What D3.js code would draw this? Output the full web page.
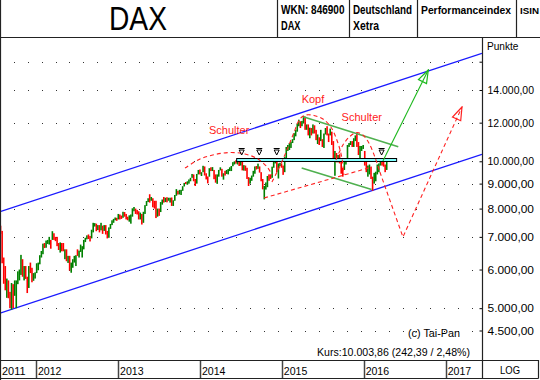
<!DOCTYPE html>
<html>
<head>
<meta charset="utf-8">
<script src="https://cdn.jsdelivr.net/npm/d3@7"></script>
<style>
  body { margin: 0; background: #fff; }
  svg { display: block; font-family: "Liberation Sans", Arial, sans-serif; }
</style>
</head>
<body>
<svg id="chart" width="540" height="380"></svg>
<script>
// weekly DAX bars, one per week (mid-week date), late Jul 2011 - mid Apr 2016
const firstWeek = new Date(2011, 6, 27);

const closes = [
  7159,6236,5998,5480,5537,5247,5190,5574,5294,5502,5675,5910,5970,6346,5966,5985,5800,5492,6080,5986,5701,5878,5898,
  6057,6143,6404,6512,6766,6692,6849,6864,6921,6880,7157,6996,6947,6775,6584,6801,6761,6561,6579,6271,6339,5978,6130,6230,6263,6416,
  6410,6557,6630,6690,6865,6945,7040,6971,6970,7214,7412,7451,7216,7397,7233,7380,7232,7335,7163,6950,7310,7405,7518,7596,7636,7612,
  7776,7715,7702,7857,7833,7652,7593,7662,7708,7986,8058,7913,7795,7658,7744,7459,7814,8122,8278,8399,8305,8349,8254,8127,7789,7959,
  7806,8212,8331,8298,8410,8338,8378,8416,8104,8276,8509,8676,8661,8725,8725,8869,9018,9009,9078,9169,9219,9406,9172,9006,9400,9590,
  9435,9473,9742,9392,9306,9290,9662,9657,9692,9350,9056,9342,9587,9695,9315,9409,9401,9556,9581,9630,9768,9943,9987,9912,9987,9815,
  10009,9666,9720,9644,9210,9010,9092,9339,9470,9747,9691,9799,9490,9195,8788,8850,8988,9326,9291,9252,9732,9980,10087,9594,9787,9884,
  9765,9649,10167,10649,10694,10846,10963,11051,11402,11551,11901,12040,11868,11967,12375,11689,11811,11454,11709,11447,11865,11413,11197,11197,11041,11492,
  10961,11316,11674,11347,11309,11490,10985,10124,10298,10038,10123,9916,9688,9553,10096,10104,10795,10850,10988,10708,11119,11293,10752,10340,10608,10728,
  10743,9849,9545,9764,9798,9286,8967,9388,9513,9824,9831,9951,9851,9794,9622,10004
];
const highs = [
  7380,7200,6350,6100,5750,5700,5400,5630,5600,5700,5700,5950,6000,6430,6300,6100,6100,5800,6100,6200,6050,5900,5920,
  6180,6200,6420,6550,6780,6800,6880,6900,7000,6900,7190,7120,7000,7000,6800,6820,6800,6800,6600,6600,6400,6400,6200,6300,6400,6420,
  6600,6560,6750,6700,6900,6970,7050,7080,7030,7240,7480,7470,7450,7400,7400,7480,7380,7400,7400,7200,7320,7440,7570,7620,7670,7660,
  7800,7780,7740,7880,7870,7800,7700,7750,7780,8010,8060,8000,7950,7900,7850,7800,7880,8130,8290,8400,8560,8450,8400,8300,8300,8000,
  8000,8250,8350,8450,8420,8440,8420,8420,8430,8320,8530,8770,8700,8740,8740,8890,9030,9070,9100,9180,9250,9420,9400,9200,9420,9600,
  9620,9500,9790,9760,9450,9310,9680,9720,9730,9600,9400,9400,9600,9720,9650,9450,9560,9600,9640,9720,9780,9960,10000,10050,10050,10000,
  10030,10000,9820,9800,9700,9280,9250,9350,9560,9760,9780,9890,9760,9500,9200,8900,9050,9330,9400,9400,9750,9990,10090,10030,9900,9930,
  9900,9800,10200,10700,10800,10900,10970,11100,11420,11600,11950,12170,12080,12100,12390,12350,11900,11900,11720,11700,11900,11850,11600,11350,11200,11600,
  11100,11400,11700,11800,11400,11670,11500,11000,10500,10400,10300,10340,10100,9700,10150,10150,10800,10900,11000,11000,11150,11300,11430,10950,10750,10750,
  10800,10500,10000,9800,9850,9750,9300,9470,9520,9850,9900,10100,10000,10000,9850,10030
];
const lows = [
  7100,6180,5610,5440,5250,5240,5000,4965,5000,5300,5000,5600,5700,5850,5800,5700,5740,5370,5500,5900,5650,5690,5750,
  5900,5980,6150,6350,6450,6640,6650,6770,6750,6620,6900,6900,6860,6700,6580,6500,6540,6540,6300,6240,6190,5970,5910,6050,6200,6100,
  6400,6350,6520,6350,6600,6830,6920,6930,6850,6950,7150,7350,7190,7230,7150,7220,7100,7200,7080,6950,6970,7270,7400,7480,7570,7550,
  7600,7600,7620,7660,7700,7600,7570,7520,7450,7700,7900,7800,7780,7600,7600,7420,7480,7800,8100,8250,8230,8300,8050,8000,7650,7700,
  7730,7870,8150,8230,8250,8240,8300,8230,8100,8100,8300,8500,8550,8550,8530,8700,8880,8980,8950,9000,9100,9250,9100,8900,9000,9400,
  9400,9330,9500,9350,9180,9010,9300,9550,9550,9190,9040,8990,9300,9580,9300,9170,9350,9420,9400,9550,9550,9770,9850,9890,9850,9780,
  9800,9580,9570,9560,9200,8900,9000,9120,9300,9430,9620,9650,9480,9100,8760,8355,8750,8850,9120,9200,9250,9700,9900,9500,9220,9780,
  9700,9380,9500,10100,10500,10550,10650,10900,11050,11250,11500,11800,11700,11800,11950,11600,11600,11300,11150,11300,11400,11400,11050,10850,10800,11000,
  10700,10650,11350,11300,10950,11300,10800,10100,9340,9950,9950,9900,9430,9300,9600,9850,10100,10700,10800,10700,10700,11000,10700,10300,10150,10500,
  10600,9800,9500,9300,9400,9200,8700,9000,9100,9400,9500,9800,9800,9750,9500,9600
];

const yGrid = [16000, 14000, 12000, 10000, 9000, 8000, 7000, 6000, 5000, 4500];
const yLabels = [14000, 12000, 10000, 9000, 8000, 7000, 6000, 5000, 4500];
const years = [2011, 2012, 2013, 2014, 2015, 2016, 2017];

// drawn analysis: points as [decimal year, index points]
const channelTop = [[2011.561, 7883], [2017.443, 16647]];
const channelBottom = [[2011.561, 4882], [2017.443, 10336]];
const neckline = [[2014.449, 10061], [2016.402, 10061]];
const neckMarks = [2014.510, 2014.725, 2014.938, 2016.219];
const leftShoulder = [[2013.818, 9688], [2014.001, 10109], [2014.185, 10326], [2014.368, 10424],
  [2014.551, 10350], [2014.709, 10109], [2014.831, 9688], [2014.880, 9374]];
const headArc = [[2014.880, 9069], [2014.978, 9781], [2015.063, 10547], [2015.149, 11456], [2015.222, 12210],
  [2015.295, 12442], [2015.393, 12413], [2015.503, 12210], [2015.600, 11757], [2015.673, 11058],
  [2015.722, 10399], [2015.747, 9827], [2015.759, 9374]];
const rightShoulder = [[2015.661, 10061], [2015.747, 10800], [2015.832, 11242], [2015.918, 11456],
  [2015.991, 11322], [2016.064, 10901], [2016.137, 10205], [2016.198, 9507]];
const bearPath = [[2016.198, 9507], [2016.479, 6995], [2017.199, 12920]];
const lowLine = [[2014.783, 8410], [2016.101, 9735]];
const greenTop = [[2015.262, 12342], [2016.422, 10713]];
const greenBottom = [[2015.243, 9688], [2016.097, 8754]];
const bullArrow = [[2016.235, 10014], [2016.788, 15386]];
const labels = [
  {text: 'Schulter', at: [2014.111, 11374]},
  {text: 'Kopf', at: [2015.243, 13166]},
  {text: 'Schulter', at: [2015.731, 12094]}
];

const svg = d3.select('#chart');
const plot = {left: 0, right: 482, top: 37, bottom: 360};
const FONT = '"Liberation Sans", Arial, sans-serif';

const x = d3.scaleTime()
    .domain([new Date(2012, 0, 1), new Date(2017, 0, 1)])
    .range([36, 445.7]);
const y = d3.scaleLog()
    .domain([4500, 16000])
    .range([330.5, 61.7]);

// decimal year -> Date
const yr = t => {
    const y0 = Math.floor(t), a = new Date(y0, 0, 1), b = new Date(y0 + 1, 0, 1);
    return new Date(+a + (t - y0) * (b - a));
};
const line = d3.line().x(d => x(yr(d[0]))).y(d => y(d[1]));
const curve = d3.line().x(d => x(yr(d[0]))).y(d => y(d[1])).curve(d3.curveCatmullRom);

const bars = closes.map((c, i) => ({
    date: d3.timeDay.offset(firstWeek, 7 * i),
    close: c, high: highs[i], low: lows[i],
    up: i > 0 && c >= closes[i - 1]
}));

// arrow heads
const defs = svg.append('defs');
[['headGreen', '#1cb81c'], ['headRed', '#ff2020']].forEach(([id, col]) => {
    defs.append('marker')
        .attr('id', id)
        .attr('viewBox', '-14 -6 15 12')
        .attr('markerWidth', 15).attr('markerHeight', 12)
        .attr('markerUnits', 'userSpaceOnUse')
        .attr('refX', 0).attr('refY', 0)
        .attr('orient', 'auto')
        .append('path')
        .attr('d', 'M0,0 L-13,-4.5 L-13,4.5 Z')
        .attr('fill', 'none')
        .attr('stroke', col)
        .attr('stroke-width', 1.2);
});
defs.append('clipPath').attr('id', 'plotClip')
    .append('rect')
    .attr('x', plot.left).attr('y', plot.top)
    .attr('width', plot.right - plot.left).attr('height', plot.bottom - plot.top);

// dotted grid
const dotCols = d3.range(13.88, plot.right - 2, 13.88);
svg.append('g').selectAll('g')
    .data(yGrid)
    .join('g')
    .selectAll('rect')
    .data(v => dotCols.map(c => [c, y(v)]))
    .join('rect')
    .attr('x', d => Math.round(d[0]))
    .attr('y', d => Math.round(d[1]))
    .attr('width', 1).attr('height', 1)
    .attr('fill', '#333');

const chart = svg.append('g').attr('clip-path', 'url(#plotClip)');

// trend channel
chart.selectAll('.channel')
    .data([channelTop, channelBottom])
    .join('path')
    .attr('d', line)
    .attr('fill', 'none')
    .attr('stroke', '#1a1aff')
    .attr('stroke-width', 1.3);

// price bars
chart.append('g').selectAll('rect')
    .data(bars)
    .join('rect')
    .attr('x', d => x(d.date) - 0.8)
    .attr('width', 1.6)
    .attr('y', d => y(d.high))
    .attr('height', d => Math.max(1, y(d.low) - y(d.high)))
    .attr('fill', d => d.up ? '#008000' : '#ff0000');

// neckline
chart.append('rect')
    .attr('x', x(yr(neckline[0][0])))
    .attr('width', x(yr(neckline[1][0])) - x(yr(neckline[0][0])))
    .attr('y', y(neckline[0][1]) - 1.5)
    .attr('height', 3)
    .attr('fill', '#80ffff')
    .attr('stroke', '#000')
    .attr('stroke-width', 1);

// green lines
chart.selectAll('.green')
    .data([greenTop, greenBottom])
    .join('path')
    .attr('d', line)
    .attr('fill', 'none')
    .attr('stroke', '#4fb04f')
    .attr('stroke-width', 1.6);
chart.append('path')
    .attr('d', line(bullArrow))
    .attr('fill', 'none')
    .attr('stroke', '#1cb81c')
    .attr('stroke-width', 1.1)
    .attr('marker-end', 'url(#headGreen)');

// red dashed head & shoulders
const dashed = g => g.attr('fill', 'none')
    .attr('stroke', '#ff2020')
    .attr('stroke-width', 1.1)
    .attr('stroke-dasharray', '4,3');
[leftShoulder, headArc, rightShoulder].forEach(pts => chart.append('path').attr('d', curve(pts)).call(dashed));
chart.append('path').attr('d', line(lowLine)).call(dashed);
chart.append('path').attr('d', line(bearPath)).call(dashed).attr('marker-end', 'url(#headRed)');

// neckline touch markers
chart.append('g').selectAll('path')
    .data(neckMarks)
    .join('path')
    .attr('transform', d => `translate(${x(yr(d))},${y(neckline[0][1]) - 4})`)
    .attr('d', 'M-3,-7.5 H3 M-2.5,-6 L0,-1 L2.5,-6 Z')
    .attr('fill', 'none')
    .attr('stroke', '#000')
    .attr('stroke-width', 1);

chart.append('g').selectAll('text')
    .data(labels)
    .join('text')
    .attr('x', d => x(yr(d.at[0])))
    .attr('y', d => y(d.at[1]))
    .attr('font-size', 11)
    .attr('fill', '#ff1a1a')
    .text(d => d.text);

// captions
svg.append('text').attr('x', 408).attr('y', 337)
    .attr('font-size', 11).attr('textLength', 52).attr('lengthAdjust', 'spacingAndGlyphs')
    .text('(c) Tai-Pan');
svg.append('text').attr('x', 317).attr('y', 356)
    .attr('font-size', 11).attr('textLength', 153).attr('lengthAdjust', 'spacingAndGlyphs')
    .text('Kurs:10.003,86 (242,39 / 2,48%)');

// right axis
const fmt = d3.formatLocale({decimal: ',', thousands: '.', grouping: [3], currency: ['', '']}).format(',.2f');
svg.append('g')
    .attr('transform', `translate(${plot.right + 0.5},0)`)
    .call(d3.axisRight(y).tickValues(yGrid).tickSize(-3).tickPadding(5)
        .tickFormat(v => yLabels.includes(v) ? fmt(v) : ''))
    .call(g => g.select('.domain').remove())
    .call(g => g.selectAll('text')
        .attr('font-family', FONT).attr('font-size', 11).attr('fill', '#000')
        .attr('textLength', 46.5).attr('lengthAdjust', 'spacingAndGlyphs'))
    .call(g => g.selectAll('line').attr('stroke', '#000'));

svg.append('text').attr('x', 487).attr('y', 50)
    .attr('font-size', 11).attr('textLength', 31.5).attr('lengthAdjust', 'spacingAndGlyphs')
    .text('Punkte');

// x axis band
const xg = svg.append('g');
xg.selectAll('line')
    .data(years.filter(d => x(new Date(d, 0, 1)) > 0))
    .join('line')
    .attr('x1', d => Math.round(x(new Date(d, 0, 1))) + 0.5)
    .attr('x2', d => Math.round(x(new Date(d, 0, 1))) + 0.5)
    .attr('y1', plot.bottom).attr('y2', 378)
    .attr('stroke', '#444').attr('stroke-width', 1.5);
xg.selectAll('text')
    .data(years)
    .join('text')
    .attr('x', d => Math.max(0, x(new Date(d, 0, 1))) + 2)
    .attr('y', 375)
    .attr('font-size', 11.5)
    .attr('textLength', 23.5).attr('lengthAdjust', 'spacingAndGlyphs')
    .text(d => d);
svg.append('text').attr('x', 500).attr('y', 374)
    .attr('font-size', 11.5).attr('textLength', 20).attr('lengthAdjust', 'spacingAndGlyphs')
    .text('LOG');

// frame lines
const frame = [
    [0.5, 0, 0.5, 380],
    [0, 37.5, 540, 37.5],
    [plot.right + 0.5, 37, plot.right + 0.5, 378],
    [0, plot.bottom + 0.5, 538, plot.bottom + 0.5],
    [0, 378.5, 538.5, 378.5],
    [538.5, plot.bottom, 538.5, 378.5],
    [277.5, 0, 277.5, 37], [349.5, 0, 349.5, 37], [417.5, 0, 417.5, 37], [516.5, 0, 516.5, 37]
];
svg.append('g').selectAll('line')
    .data(frame)
    .join('line')
    .attr('x1', d => d[0]).attr('y1', d => d[1])
    .attr('x2', d => d[2]).attr('y2', d => d[3])
    .attr('stroke', '#222')
    .attr('stroke-width', 1.2);

// header
const header = [
    {t: 'DAX', x: 138, y: 30, size: 34, w: 58, bold: false, anchor: 'middle'},
    {t: 'WKN: 846900', x: 281, y: 14, size: 12.5, w: 63.5, bold: true},
    {t: 'DAX', x: 281, y: 30, size: 12.5, w: 19.5, bold: true},
    {t: 'Deutschland', x: 353, y: 14, size: 12.5, w: 59, bold: true},
    {t: 'Xetra', x: 353, y: 30, size: 12.5, w: 26, bold: true},
    {t: 'Performanceindex', x: 421, y: 14, size: 10.5, w: 90, bold: true},
    {t: 'ISIN', x: 520, y: 14, size: 9.8, w: 19, bold: true}
];
svg.append('g').selectAll('text')
    .data(header)
    .join('text')
    .attr('x', d => d.x).attr('y', d => d.y)
    .attr('font-size', d => d.size)
    .attr('font-weight', d => d.bold ? 'bold' : 'normal')
    .attr('text-anchor', d => d.anchor || 'start')
    .attr('textLength', d => d.w).attr('lengthAdjust', 'spacingAndGlyphs')
    .text(d => d.t);
</script>
</body>
</html>
